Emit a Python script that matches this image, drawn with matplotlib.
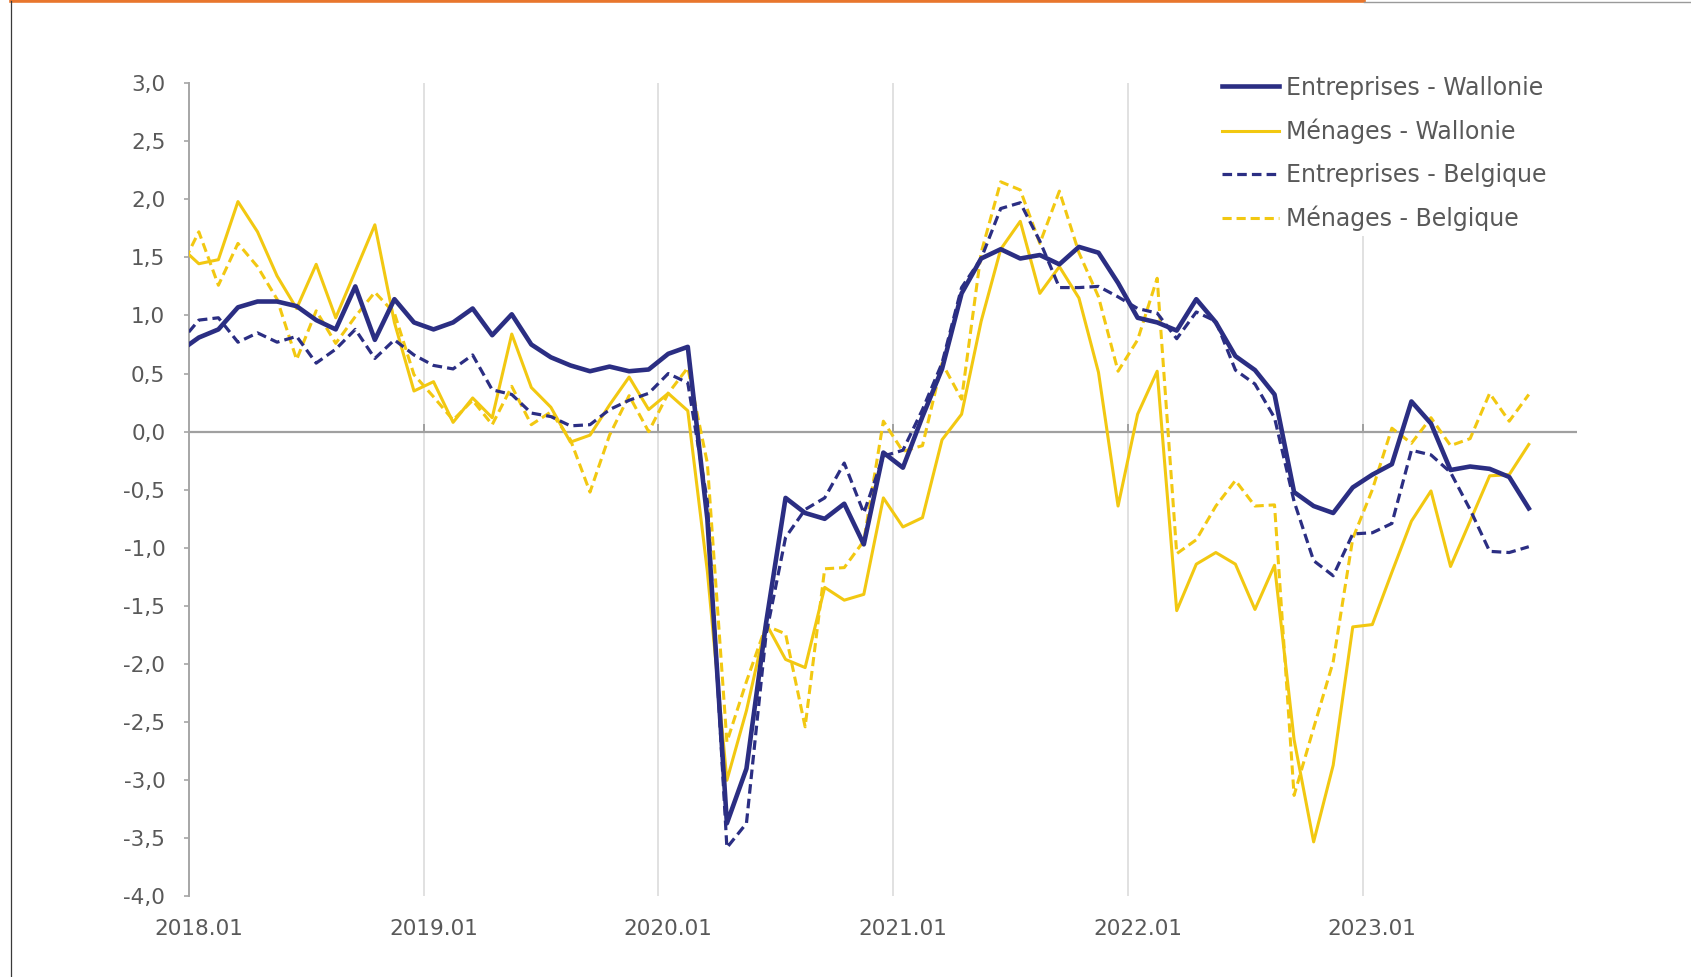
import numpy as np
import pandas as pd
import matplotlib
matplotlib.use("Agg")
import matplotlib.pyplot as plt
from matplotlib.lines import Line2D
from matplotlib.ticker import FuncFormatter

# Monthly series, 2017.12 -> 2023.09 (2017.12 only shows as the clipped start)
months = pd.period_range("2017-12", "2023-09", freq="M")

entreprises_wallonie = [
    0.69,
    0.81, 0.88, 1.07, 1.12, 1.12, 1.08, 0.96, 0.88, 1.25, 0.79, 1.14, 0.94,
    0.88, 0.94, 1.06, 0.83, 1.01, 0.75, 0.64, 0.57, 0.52, 0.56, 0.52, 0.535,
    0.67, 0.73, -0.75, -3.37, -2.90, -1.65, -0.57, -0.70, -0.75, -0.62, -0.97, -0.18,
    -0.31, 0.13, 0.54, 1.19, 1.49, 1.57, 1.49, 1.52, 1.44, 1.59, 1.54, 1.28,
    0.98, 0.94, 0.87, 1.14, 0.94, 0.65, 0.53, 0.32, -0.52, -0.64, -0.70, -0.48,
    -0.37, -0.28, 0.26, 0.07, -0.33, -0.30, -0.32, -0.39, -0.66,
]
menages_wallonie = [
    1.60,
    1.445, 1.48, 1.98, 1.72, 1.34, 1.06, 1.44, 0.98, 1.38, 1.78, 0.94, 0.35,
    0.43, 0.08, 0.29, 0.12, 0.84, 0.38, 0.21, -0.09, -0.03, 0.23, 0.47, 0.19,
    0.33, 0.18, -1.20, -3.00, -2.40, -1.65, -1.96, -2.03, -1.34, -1.45, -1.40, -0.57,
    -0.82, -0.74, -0.07, 0.15, 0.95, 1.57, 1.81, 1.19, 1.42, 1.15, 0.51, -0.64,
    0.15, 0.52, -1.54, -1.14, -1.04, -1.14, -1.53, -1.15, -2.65, -3.53, -2.87, -1.68,
    -1.66, -1.21, -0.77, -0.51, -1.16, -0.77, -0.38, -0.37, -0.11,
]
entreprises_belgique = [
    0.76,
    0.96, 0.98, 0.77, 0.85, 0.77, 0.82, 0.59, 0.71, 0.88, 0.63, 0.79, 0.66,
    0.57, 0.54, 0.66, 0.36, 0.32, 0.16, 0.13, 0.05, 0.06, 0.19, 0.27, 0.33,
    0.50, 0.42, -0.60, -3.58, -3.37, -1.75, -0.91, -0.67, -0.57, -0.27, -0.70, -0.21,
    -0.16, 0.19, 0.59, 1.24, 1.49, 1.92, 1.97, 1.64, 1.24, 1.24, 1.25, 1.16,
    1.06, 1.02, 0.80, 1.03, 0.95, 0.53, 0.41, 0.12, -0.60, -1.11, -1.24, -0.88,
    -0.87, -0.79, -0.16, -0.20, -0.35, -0.67, -1.03, -1.04, -0.99,
]
menages_belgique = [
    1.38,
    1.72, 1.26, 1.62, 1.42, 1.14, 0.62, 1.04, 0.76, 0.99, 1.20, 1.02, 0.49,
    0.30, 0.10, 0.27, 0.06, 0.39, 0.06, 0.17, -0.07, -0.52, -0.03, 0.31, 0.00,
    0.33, 0.55, -0.27, -2.67, -2.15, -1.67, -1.74, -2.54, -1.18, -1.17, -0.94, 0.09,
    -0.17, -0.12, 0.59, 0.28, 1.54, 2.15, 2.08, 1.62, 2.07, 1.54, 1.16, 0.52,
    0.79, 1.32, -1.05, -0.93, -0.64, -0.42, -0.64, -0.63, -3.13, -2.55, -1.98, -0.92,
    -0.50, 0.03, -0.10, 0.12, -0.12, -0.06, 0.33, 0.09, 0.32,
]

navy = "#2B2E83"
yellow = "#F2C811"
grey_text = "#595959"

# month index, 2018.01 = 0
x = np.arange(len(months)) - 1

fig = plt.figure(figsize=(16.91, 9.77), dpi=100)
ax = fig.add_axes([0.1118, 0.0824, 0.8206, 0.8326])

ax.plot(x, entreprises_wallonie, color=navy, lw=3.3, label="Entreprises - Wallonie", zorder=6)
ax.plot(x, menages_wallonie, color=yellow, lw=2.2, label="Ménages - Wallonie", zorder=4)
ax.plot(x, entreprises_belgique, color=navy, lw=2.3, ls=(0, (3, 1.6)),
        label="Entreprises - Belgique", zorder=5)
ax.plot(x, menages_belgique, color=yellow, lw=2.2, ls=(0, (3, 1.6)),
        label="Ménages - Belgique", zorder=3)

# axes
ax.set_xlim(-0.5, 70.45)
ax.set_ylim(-4, 3)
ax.set_yticks(np.arange(-4, 3.01, 0.5))
ax.yaxis.set_major_formatter(FuncFormatter(lambda v, p: f"{v:.1f}".replace(".", ",")))

jan = [i - 1 for i, m in enumerate(months) if m.month == 1]
ax.set_xticks(jan)
ax.set_xticklabels([months[i + 1].strftime("%Y.%m") for i in jan])
ax.set_xticks([j - 0.5 for j in jan[1:]], minor=True)
ax.grid(which="minor", axis="x", color="#D9D9D9", lw=1.1, zorder=0)

for s in ["top", "right", "bottom"]:
    ax.spines[s].set_visible(False)
ax.spines["left"].set_color("#A6A6A6")
ax.spines["left"].set_linewidth(1.4)

ax.tick_params(axis="y", direction="out", length=3.6, width=1.2, color="#A6A6A6",
               labelsize=15.5, labelcolor=grey_text, pad=13.5)
ax.tick_params(axis="x", which="major", length=0, labelsize=15.5, labelcolor=grey_text, pad=16)
ax.tick_params(axis="x", which="minor", length=0)

# zero line with small category marks
ax.axhline(0, color="#A0A0A0", lw=1.6, zorder=2)
ax.plot([j - 0.5 for j in jan[1:]], np.zeros(len(jan) - 1), ls="none", marker=2,
        ms=6, mew=1.4, color="#A0A0A0", zorder=2)

leg = ax.legend(loc="upper left", bbox_to_anchor=(0.741, 1.015), fontsize=17,
                frameon=True, fancybox=False, framealpha=1, facecolor="white",
                edgecolor="none", handlelength=2.4, handletextpad=0.3,
                labelspacing=0.8, borderpad=0.2, borderaxespad=0)
for t in leg.get_texts():
    t.set_color(grey_text)
leg.set_zorder(10)

# page frame decorations
fig.add_artist(Line2D([0.0064, 0.8066], [0.9985, 0.9985], color="#E8762D", lw=2.6))
fig.add_artist(Line2D([0.8066, 1.0], [0.9975, 0.9975], color="#9A9A9A", lw=1.0))
fig.add_artist(Line2D([0.0064, 0.0064], [0.0, 0.999], color="#3A3A3A", lw=0.9))

fig.savefig("out.png", dpi=100, facecolor="white")
